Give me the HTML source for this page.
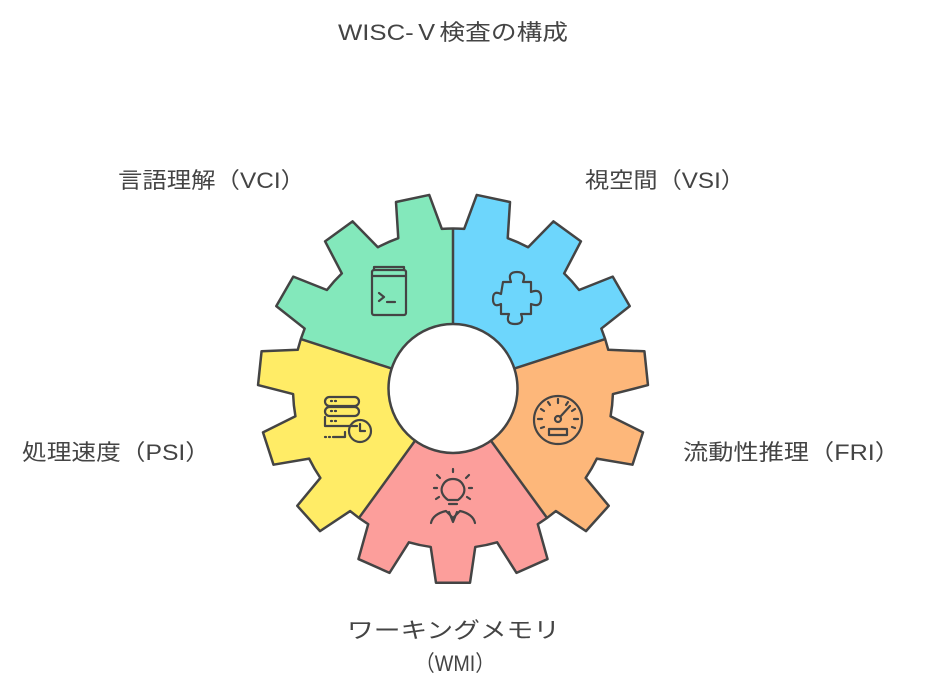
<!DOCTYPE html>
<html><head><meta charset="utf-8"><style>
html,body{margin:0;padding:0;background:#fff;}
svg{display:block;}
text{font-family:"Liberation Sans","Noto Sans CJK JP",sans-serif;fill:#444;font-size:22px;}
</style></head><body>
<svg id="s" width="940" height="697" viewBox="0 0 940 697" xmlns="http://www.w3.org/2000/svg">
<defs><clipPath id="gc"><path id="gearClip"/></clipPath></defs>
<g clip-path="url(#gc)" id="wedges"></g>
<path id="gearOut" fill="none" stroke="#444" stroke-width="2.5" stroke-linejoin="round"/>
<g id="lines" stroke="#444" stroke-width="2.5"></g>
<circle cx="453" cy="388.5" r="64.5" fill="#fff" stroke="#444" stroke-width="2.5"/>
<g fill="none" stroke="#444" stroke-width="2.2" stroke-linecap="round" stroke-linejoin="round">
 <!-- book -->
 <rect x="372" y="270" width="34" height="45" rx="2"/>
 <path d="M374 270 v-3 h30 v3 M372 276 h34"/>
 <path d="M379 293 l5 4 l-5 4 M387 302 h8"/>
 <!-- puzzle -->
 <path transform="translate(495,268)" d="M8 14 h8 q-4 -10 6 -10 q10 0 6 10 h8 v10 q10 -4 10 6 q0 10 -10 6 v10 h-10 q4 10 -6 10 q-10 0 -6 -10 h-8 v-10 q-8 4 -8 -5 q0 -9 8 -5 z"/>
 <!-- gauge -->
 <circle cx="558" cy="420" r="24"/>
 <circle cx="558" cy="419" r="3"/>
 <path d="M560 417 l10 -11"/>
 <rect x="549" y="429" width="18" height="6"/>
 <path d="M541 428 l3 -1 M538 419 h4 M541 409 l3 2 M548 402 l2 3 M558 399 v4 M568 402 l-2 3 M575 409 l-3 2 M578 419 h-4 M575 428 l-3 -1"/>
 <!-- server clock -->
 <rect x="325" y="397" width="34" height="9" rx="4.5"/>
 <rect x="325" y="407" width="34" height="9" rx="4.5"/>
 <path d="M357 426 h-32 v-9"/>
 <circle cx="360" cy="431" r="11"/>
 <path d="M360 424 v7 h5 M325 437 h1 M329 437 h1 M333 437 h12 v-5 M331 401 h1 M335 401 h1 M331 411 h1 M335 411 h1 M331 421 h1 M335 421 h1"/>
 <!-- bulb person -->
 <path d="M448 500 q-8 -6 -6 -13 q3 -8 11 -8 q8 0 11 8 q2 7 -6 13 z M449 504 h8"/>
 <path d="M440 478 l-3 -3 M466 478 l3 -3 M453 472 v-3 M437 488 h-3 M469 488 h3 M439 497 l-3 2 M467 497 l3 2"/>
 <path d="M431 523 q2 -9 15 -12 l7 7 7 -7 q13 3 15 12 M449 512 l4 10 4 -10"/>
</g>
<text x="453" y="40" text-anchor="middle" textLength="230" lengthAdjust="spacingAndGlyphs" font-size="21">WISC-Ｖ検査の構成</text>
<text x="118" y="188" textLength="187" lengthAdjust="spacingAndGlyphs">言語理解（VCI）</text>
<text x="585" y="188" textLength="160" lengthAdjust="spacingAndGlyphs">視空間（VSI）</text>
<text x="22" y="460" textLength="188" lengthAdjust="spacingAndGlyphs">処理速度（PSI）</text>
<text x="683" y="460" textLength="217" lengthAdjust="spacingAndGlyphs">流動性推理（FRI）</text>
<text x="347" y="638" textLength="213" lengthAdjust="spacingAndGlyphs">ワーキングメモリ</text>
<text x="415" y="671" textLength="80" lengthAdjust="spacingAndGlyphs">（WMI）</text>
</svg>
<script>
(function(){
var cx=453,cy=388.5,R=195,r=160,N=15;
function P(rad,deg){var a=deg*Math.PI/180;return (cx+rad*Math.sin(a)).toFixed(2)+","+(cy-rad*Math.cos(a)).toFixed(2);}
var d="";
for(var i=0;i<N;i++){
 var c=12+24*i;
 d+=(i==0?"M":"L")+P(r,c-8)+" L"+P(R,c-5)+" L"+P(R,c+5)+" L"+P(r,c+8)+" ";
 d+="A"+r+","+r+" 0 0 1 "+P(r,c+16)+" ";
}
d+="Z";
document.getElementById("gearClip").setAttribute("d",d);
document.getElementById("gearOut").setAttribute("d",d);
var cols=["#6dd6fc","#fdb77a","#fc9e9b","#ffec66","#83e8bb"];
var w=document.getElementById("wedges"),L=document.getElementById("lines");
var ns="http://www.w3.org/2000/svg";
for(var k=0;k<5;k++){
 var a0=72*k,a1=72*(k+1);
 var pts=[cx+","+cy];
 for(var a=a0;a<=a1;a+=6)pts.push(P(300,a));
 var pg=document.createElementNS(ns,"polygon");
 pg.setAttribute("points",pts.join(" "));pg.setAttribute("fill",cols[k]);
 w.appendChild(pg);
 var ln=document.createElementNS(ns,"line");
 var p1=P(64,a0).split(","),p2=P(r,a0).split(",");
 ln.setAttribute("x1",p1[0]);ln.setAttribute("y1",p1[1]);ln.setAttribute("x2",p2[0]);ln.setAttribute("y2",p2[1]);
 L.appendChild(ln);
}
})();
</script>
</body></html>
